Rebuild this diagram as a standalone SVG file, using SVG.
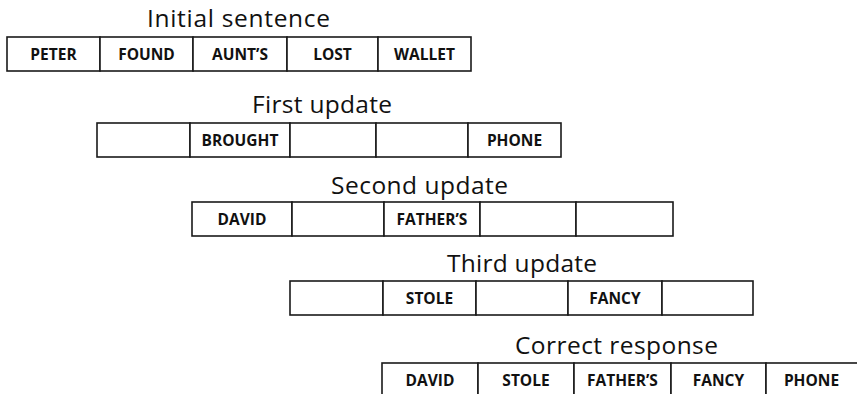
<svg xmlns="http://www.w3.org/2000/svg" width="857" height="394" viewBox="0 0 857 394">
<style>
.bg{fill:#fff}
.cell{fill:#fff;stroke:#1a1a1a;stroke-width:1.6}
.title{font-family:"Open Sans","Liberation Sans",Arial,sans-serif;font-size:24.5px;fill:#111;text-anchor:middle}
.lbl{font-family:"Open Sans","Liberation Sans",Arial,sans-serif;font-size:15.5px;font-weight:bold;fill:#111;text-anchor:middle}
</style>
<rect class="bg" x="0" y="0" width="857" height="394"/>

<g id="row-initial">
<text class="title" x="238.5" y="27" textLength="183">Initial sentence</text>
<rect class="cell" x="7" y="37" width="93" height="34"/>
<rect class="cell" x="100" y="37" width="93" height="34"/>
<rect class="cell" x="193" y="37" width="94" height="34"/>
<rect class="cell" x="287" y="37" width="91" height="34"/>
<rect class="cell" x="378" y="37" width="93" height="34"/>
<text class="lbl" x="53.5" y="60">PETER</text>
<text class="lbl" x="146.5" y="60">FOUND</text>
<text class="lbl" x="240" y="60">AUNT’S</text>
<text class="lbl" x="332.5" y="60">LOST</text>
<text class="lbl" x="424.5" y="60">WALLET</text>
</g>

<g id="row-first">
<text class="title" x="322" y="113" textLength="140">First update</text>
<rect class="cell" x="97" y="123" width="93" height="34"/>
<rect class="cell" x="190" y="123" width="100" height="34"/>
<rect class="cell" x="290" y="123" width="86" height="34"/>
<rect class="cell" x="376" y="123" width="92" height="34"/>
<rect class="cell" x="468" y="123" width="93" height="34"/>
<text class="lbl" x="240" y="146">BROUGHT</text>
<text class="lbl" x="514.5" y="146">PHONE</text>
</g>

<g id="row-second">
<text class="title" x="419.5" y="194" textLength="177">Second update</text>
<rect class="cell" x="192" y="202" width="100" height="34"/>
<rect class="cell" x="292" y="202" width="92" height="34"/>
<rect class="cell" x="384" y="202" width="96" height="34"/>
<rect class="cell" x="480" y="202" width="96" height="34"/>
<rect class="cell" x="576" y="202" width="97" height="34"/>
<text class="lbl" x="242" y="225">DAVID</text>
<text class="lbl" x="432" y="225">FATHER’S</text>
</g>

<g id="row-third">
<text class="title" x="522" y="272" textLength="150">Third update</text>
<rect class="cell" x="290" y="281" width="93" height="34"/>
<rect class="cell" x="383" y="281" width="93" height="34"/>
<rect class="cell" x="476" y="281" width="92" height="34"/>
<rect class="cell" x="568" y="281" width="94" height="34"/>
<rect class="cell" x="662" y="281" width="91" height="34"/>
<text class="lbl" x="429.5" y="304">STOLE</text>
<text class="lbl" x="615" y="304">FANCY</text>
</g>

<g id="row-correct">
<text class="title" x="616.5" y="354" textLength="203">Correct response</text>
<rect class="cell" x="382" y="363" width="96" height="40"/>
<rect class="cell" x="478" y="363" width="96" height="40"/>
<rect class="cell" x="574" y="363" width="97" height="40"/>
<rect class="cell" x="671" y="363" width="95" height="40"/>
<rect class="cell" x="766" y="363" width="100" height="40"/>
<text class="lbl" x="430" y="386">DAVID</text>
<text class="lbl" x="526" y="386">STOLE</text>
<text class="lbl" x="622.5" y="386">FATHER’S</text>
<text class="lbl" x="718.5" y="386">FANCY</text>
<text class="lbl" x="811.5" y="386">PHONE</text>
</g>

<g id="connectors"></g>
</svg>
